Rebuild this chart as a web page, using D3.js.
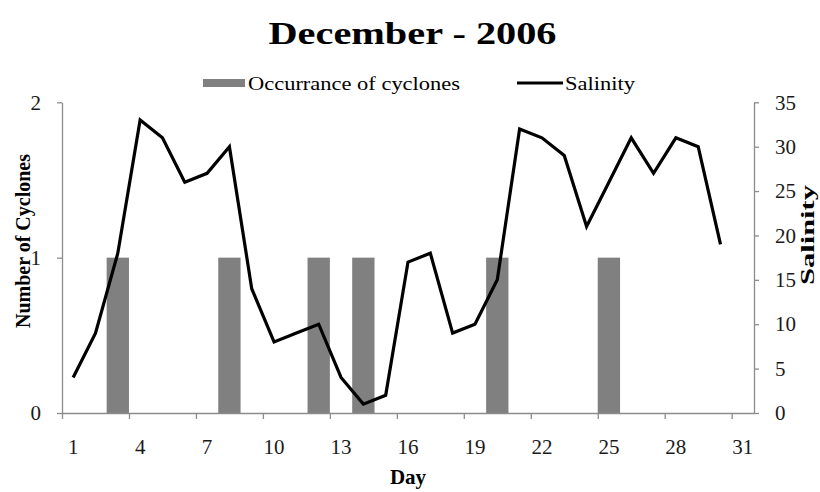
<!DOCTYPE html>
<html>
<head>
<meta charset="utf-8">
<script src="https://cdn.jsdelivr.net/npm/d3@7"></script>
<style>
  body { margin: 0; background: #fff; }
  svg text { font-family: "Liberation Serif", "Times New Roman", serif; }
  .axis path, .axis line { stroke: #8c8c8c; stroke-width: 1.3; }
</style>
</head>
<body>
<div id="chart"></div>
<script>
// data
const days = d3.range(1, 32);                       // 1..31
const cycloneDays = [3, 8, 12, 14, 20, 25];          // one cyclone on each
const salinityDays = d3.range(1, 31);                // 1..30
const salinity = [4, 9, 18, 33, 31, 26, 27, 30, 14, 8,
                  9, 10, 4, 1, 2, 17, 18, 9, 10, 15,
                  32, 31, 29, 21, 26, 31, 27, 31, 30, 19];
const xLabels = [1, 4, 7, 10, 13, 16, 19, 22, 25, 28, 31];
const leftTicks = [0, 1, 2];
const rightTicks = [0, 5, 10, 15, 20, 25, 30, 35];

const W = 820, H = 492;
const plot = { left: 62, right: 754, top: 102.3, bottom: 413 };

const svg = d3.select("#chart").append("svg")
  .attr("width", W).attr("height", H);

// scales
const x = d3.scaleBand().domain(days).range([plot.left, plot.right]).padding(0);
const xEdge = d3.scaleLinear().domain([0, 31]).range([plot.left, plot.right]);
const yLeft = d3.scaleLinear().domain([0, 2]).range([plot.bottom, plot.top]);
const yRight = d3.scaleLinear().domain([0, 35]).range([plot.bottom, plot.top]);

// bars
svg.selectAll(".bar")
  .data(cycloneDays)
  .enter().append("rect")
  .attr("class", "bar")
  .attr("x", d => x(d))
  .attr("y", yLeft(1))
  .attr("width", x.bandwidth())
  .attr("height", yLeft(0) - yLeft(1))
  .attr("fill", "#808080");

// axes
svg.append("g").attr("class", "axis")
  .attr("transform", `translate(${plot.left},0)`)
  .call(d3.axisLeft(yLeft).tickValues(leftTicks).tickFormat(d3.format("d"))
    .tickSize(5).tickSizeOuter(0).tickPadding(16));

svg.append("g").attr("class", "axis")
  .attr("transform", `translate(${plot.right},0)`)
  .call(d3.axisRight(yRight).tickValues(rightTicks).tickFormat(d3.format("d"))
    .tickSize(5).tickSizeOuter(0).tickPadding(16));

// tick marks sit on category edges, every 3 days
svg.append("g").attr("class", "axis")
  .attr("transform", `translate(0,${plot.bottom})`)
  .call(d3.axisBottom(xEdge).tickValues(d3.range(0, 31, 3)).tickSize(6).tickSizeOuter(0).tickFormat(""));

// labels centred on categories
const bottomLabels = svg.append("g").attr("class", "axis")
  .attr("transform", `translate(0,${plot.bottom})`)
  .call(d3.axisBottom(x).tickValues(xLabels).tickSize(0).tickPadding(26));
bottomLabels.select(".domain").remove();

svg.selectAll(".axis text")
  .attr("font-size", 21)
  .attr("fill", "#1a1a1a");

// salinity line
const line = d3.line()
  .x((d, i) => x(salinityDays[i]) + x.bandwidth() / 2)
  .y(d => yRight(d));

svg.append("path")
  .datum(salinity)
  .attr("d", line)
  .attr("fill", "none")
  .attr("stroke", "#000")
  .attr("stroke-width", 3.2)
  .attr("stroke-linejoin", "miter");

// title
svg.append("text")
  .attr("x", 412.5).attr("y", 44)
  .attr("text-anchor", "middle")
  .attr("font-size", 32).attr("font-weight", "bold")
  .attr("textLength", 288).attr("lengthAdjust", "spacingAndGlyphs")
  .text("December - 2006");

// legend
svg.append("rect")
  .attr("x", 203).attr("y", 79).attr("width", 42).attr("height", 8)
  .attr("fill", "#808080");
svg.append("text")
  .attr("x", 248).attr("y", 90)
  .attr("font-size", 18)
  .attr("textLength", 212).attr("lengthAdjust", "spacingAndGlyphs")
  .text("Occurrance of cyclones");
svg.append("line")
  .attr("x1", 517).attr("x2", 563).attr("y1", 83).attr("y2", 83)
  .attr("stroke", "#000").attr("stroke-width", 3.2);
svg.append("text")
  .attr("x", 565).attr("y", 90)
  .attr("font-size", 18)
  .attr("textLength", 70).attr("lengthAdjust", "spacingAndGlyphs")
  .text("Salinity");

// axis titles
svg.append("text")
  .attr("x", 408).attr("y", 484)
  .attr("text-anchor", "middle")
  .attr("font-size", 21).attr("font-weight", "bold")
  .text("Day");

svg.append("text")
  .attr("transform", "translate(30,241) rotate(-90)")
  .attr("text-anchor", "middle")
  .attr("font-size", 20).attr("font-weight", "bold")
  .text("Number of Cyclones");

svg.append("text")
  .attr("transform", "translate(814,235) rotate(-90)")
  .attr("text-anchor", "middle")
  .attr("font-size", 19).attr("font-weight", "bold")
  .attr("textLength", 100).attr("lengthAdjust", "spacingAndGlyphs")
  .text("Salinity");
</script>
</body>
</html>
